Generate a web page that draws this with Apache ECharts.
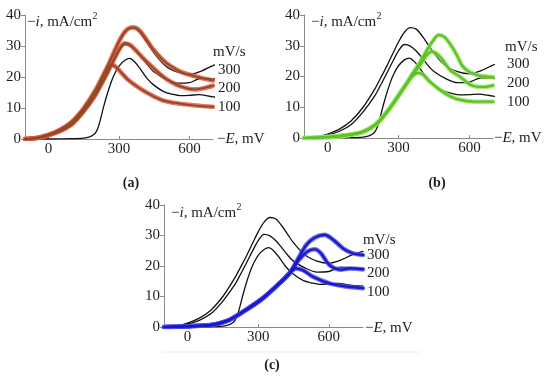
<!DOCTYPE html>
<html><head><meta charset="utf-8">
<script src="https://cdn.jsdelivr.net/npm/echarts@6/dist/echarts.min.js"></script>
<style>html,body{margin:0;padding:0;background:#fff}#c{width:550px;height:381px}</style>
</head><body><div id="c"></div>
<script>
// ---- data (E in mV, i in mA/cm2) ----
const black300E = [-100,-50,0,50,100,150,200,225,250,275,300,325,350,375,400,425,450,500,550,600,650,700,745];
const black300I = [0,0.35,1.3,2.9,5.6,10.0,16.0,19.6,23.3,27.3,31.2,34.4,35.9,35.4,33.2,30.4,27.6,23.5,21.6,20.9,21.9,23.7,24.8];
const black200E = [-100,-50,0,50,100,150,200,225,250,275,300,325,350,375,400,425,450,500,550,600,650,700,745];
const black200I = [0,0.25,1.0,2.2,4.4,8.5,13.8,17.3,21.0,24.8,28.3,30.4,29.9,28.3,26.0,23.6,21.6,19.3,18.0,18.2,19.6,19.4,19.1];
const black100E = [-100,0,100,150,175,190,200,210,220,235,250,265,280,300,325,345,365,390,420,450,490,530,560,600,640,700,745];
const black100I = [0,0,0.1,0.3,0.7,1.3,2.0,3.5,6.0,10.5,14.5,18.0,20.8,23.5,25.4,26.0,25.0,22.7,19.5,17.3,15.3,14.4,14.0,14.1,14.3,13.6,13.4];

const red300E = [-100,-50,0,50,100,150,200,250,300,330,360,390,440,480,510,550,580,620,650,700];
const red300I = [0,0.35,1.3,3.0,5.6,10.0,15.8,23.2,31.5,35.0,36.0,34.8,29.5,26.0,24.0,22.2,21.2,20.3,19.7,18.9];
const red200E = [-100,-50,0,50,100,150,200,250,300,325,350,410,480,520,565,620,660,700];
const red200I = [0,0.3,1.2,2.6,4.8,8.9,14.3,21.2,28.8,30.9,30.2,25.5,20.6,18.5,16.9,16.0,16.4,17.2];
const red100E = [-100,-50,0,50,100,150,200,225,250,270,290,340,410,480,530,580,640,700];
const red100I = [0,0.3,1.3,3.0,5.5,9.5,14.5,19.0,22.6,23.9,23.0,19.0,15.3,12.6,11.7,11.2,10.7,10.4];

const green300E = [-100,-50,0,50,100,150,200,236,280,335,360,390,420,445,470,495,526,550,570,600,640,700];
const green300I = [0,0.1,0.3,0.6,1.1,2.0,4.2,7.0,11.5,17.8,21.0,24.5,28.5,31.5,33.5,32.8,29.7,26.5,23.5,21.5,20.3,19.8];
const green200E = [-100,-50,0,50,100,150,200,236,280,335,360,390,420,441,476,520,561,600,632,660,700];
const green200I = [0,0.1,0.3,0.6,1.1,2.0,4.2,7.0,11.5,17.8,20.5,23.5,27.0,28.1,26.4,22.0,19.9,17.5,16.7,16.6,17.1];
const green100E = [-100,-50,0,50,100,150,200,236,280,335,360,384,405,430,476,520,561,620,700];
const green100I = [0,0.1,0.3,0.6,1.1,2.0,4.2,7.0,11.5,17.8,20.2,21.2,20.5,18.5,15.6,13.5,12.4,11.8,11.8];

const blue300E = [-100,-50,0,50,106,177,248,319,390,433,470,504,540,582,620,660,700,745];
const blue300I = [0,0.1,0.2,0.4,0.7,2.3,5.6,9.4,14.3,17.6,22.5,26.9,29.3,30.2,28.5,25.8,24.2,23.6];
const blue200E = [-100,-50,0,50,106,177,248,319,390,433,475,510,539,565,603,650,690,745];
const blue200I = [0,0.1,0.2,0.4,0.7,2.3,5.6,9.4,14.3,17.6,22.2,24.8,25.5,24.3,20.3,18.8,19.2,18.9];
const blue100E = [-100,-50,0,50,106,177,248,319,390,433,461,490,532,603,670,745];
const blue100I = [0,0.1,0.2,0.4,0.7,2.3,5.6,9.4,14.3,17.6,19.2,18.6,16.5,14.3,13.3,12.7];

const xTicks = [0, 300, 600];
const yTicks = [0, 10, 20, 30, 40];
const rateLabels = ['300', '200', '100'];
const panelLabels = ['(a)', '(b)', '(c)'];
const unitLabel = 'mV/s';

// ---- build ----
function pairs(E, I) { return E.map((e, k) => [e, I[k]]); }
const FONT = '"Liberation Serif", "Times New Roman", serif';
const FS = 15;
const TXT = '#1e1e1e';

const blackSets = [[black300E, black300I], [black200E, black200I], [black100E, black100I]];
const panels = [
  { grid: { left: 25, top: 15, width: 188, height: 124 }, xMax: 700,
    sets: [[red300E, red300I], [red200E, red200I], [red100E, red100I]],
    outer: '#e0533a', inner: '#8a4a26', outerW: 4.6, innerW: 1.8,
    ylab: [27, 22], mvs: [213, 52], rx: 218, ry: [70, 88.5, 107.5], elab: [217, 139], pl: [131, 183] },
  { grid: { left: 304, top: 15, width: 189, height: 123 }, xMax: 700,
    sets: [[green300E, green300I], [green200E, green200I], [green100E, green100I]],
    outer: '#93e460', inner: '#5cc225', outerW: 4.6, innerW: 2.2,
    ylab: [311, 22], mvs: [505, 47], rx: 507, ry: [64, 83.5, 102.5], elab: [494, 138], pl: [437, 183] },
  { grid: { left: 164, top: 205, width: 199, height: 122 }, xMax: 745,
    sets: [[blue300E, blue300I], [blue200E, blue200I], [blue100E, blue100I]],
    outer: '#4b4bee', inner: '#1818c8', outerW: 4.6, innerW: 2.2,
    ylab: [171, 213], mvs: [363, 240], rx: 367, ry: [255, 273.5, 292.5], elab: [365, 328], pl: [272, 365] }
];

const ctx = document.createElement('canvas').getContext('2d');
function tw(t, f) { ctx.font = f; return ctx.measureText(t).width; }

const grids = [], xAxes = [], yAxes = [], series = [], graphics = [];
panels.forEach((p, k) => {
  grids.push(Object.assign({ containLabel: false }, p.grid));
  xAxes.push({
    type: 'value', gridIndex: k, min: -100, max: p.xMax,
    axisLine: { show: true, onZero: false, lineStyle: { color: '#8a8a8a', width: 1 } },
    axisTick: { show: true, inside: true, length: 3, customValues: xTicks, lineStyle: { color: '#8a8a8a' } },
    axisLabel: { customValues: xTicks, fontFamily: FONT, fontSize: FS, color: TXT, margin: 3 },
    splitLine: { show: false }
  });
  yAxes.push({
    type: 'value', gridIndex: k, min: 0, max: 40, interval: 10,
    axisLine: { show: true, onZero: false, lineStyle: { color: '#8a8a8a', width: 1 } },
    axisTick: { show: true, length: 4, lineStyle: { color: '#8a8a8a' } },
    axisLabel: { fontFamily: FONT, fontSize: FS, color: TXT, margin: 4 },
    splitLine: { show: false }
  });
  const base = { type: 'line', xAxisIndex: k, yAxisIndex: k, showSymbol: false, symbol: 'none',
    smooth: 0.3, animation: false, silent: true, clip: true };
  blackSets.forEach(s => series.push(Object.assign({}, base, {
    data: pairs(s[0], s[1]), lineStyle: { color: '#111', width: 1.3, cap: 'round', join: 'round' }, z: 3 })));
  p.sets.forEach(s => series.push(Object.assign({}, base, {
    data: pairs(s[0], s[1]), lineStyle: { color: p.outer, width: p.outerW, opacity: 0.8, cap: 'round', join: 'round' }, z: 4 })));
  p.sets.forEach(s => series.push(Object.assign({}, base, {
    data: pairs(s[0], s[1]), lineStyle: { color: p.inner, width: p.innerW, cap: 'round', join: 'round' }, z: 5 })));

  const nf = FS + 'px ' + FONT, itf = 'italic ' + FS + 'px ' + FONT;
  const w = tw('\u2212', nf) + tw('i', itf) + tw(', mA/cm', nf);
  graphics.push({ type: 'text', x: p.ylab[0], y: p.ylab[1], z: 10, style: {
    text: '{n|\u2212}{it|i}{n|, mA/cm}', textVerticalAlign: 'middle', fill: TXT,
    rich: { n: { fontFamily: FONT, fontSize: FS, color: TXT }, it: { fontFamily: FONT, fontSize: FS, fontStyle: 'italic', color: TXT } } } });
  graphics.push({ type: 'text', x: p.ylab[0] + w + 0.5, y: p.ylab[1] - 6, z: 10, style: {
    text: '2', font: '10px ' + FONT, fill: TXT, textVerticalAlign: 'middle' } });
  graphics.push({ type: 'text', x: p.mvs[0], y: p.mvs[1], z: 10, style: {
    text: unitLabel, font: FS + 'px ' + FONT, fill: TXT, textVerticalAlign: 'middle' } });
  rateLabels.forEach((r, j) => graphics.push({ type: 'text', x: p.rx, y: p.ry[j], z: 10, style: {
    text: r, font: FS + 'px ' + FONT, fill: TXT, textVerticalAlign: 'middle' } }));
  graphics.push({ type: 'text', x: p.elab[0], y: p.elab[1], z: 10, style: {
    text: '{n|\u2212}{it|E}{n|, mV}', textVerticalAlign: 'middle', fill: TXT,
    rich: { n: { fontFamily: FONT, fontSize: FS, color: TXT }, it: { fontFamily: FONT, fontSize: FS, fontStyle: 'italic', color: TXT } } } });
  graphics.push({ type: 'text', x: p.pl[0], y: p.pl[1], z: 10, style: {
    text: panelLabels[k], font: 'bold 14px ' + FONT, fill: TXT, textAlign: 'center', textVerticalAlign: 'middle' } });
});
graphics.push({ type: 'line', shape: { x1: 163, y1: 352, x2: 420, y2: 352 }, style: { stroke: '#ececec', lineWidth: 1 } });

const chart = echarts.init(document.getElementById('c'), null, { renderer: 'canvas' });
chart.setOption({ backgroundColor: '#fff', animation: false, grid: grids, xAxis: xAxes, yAxis: yAxes, series: series, graphic: graphics });
</script></body></html>
